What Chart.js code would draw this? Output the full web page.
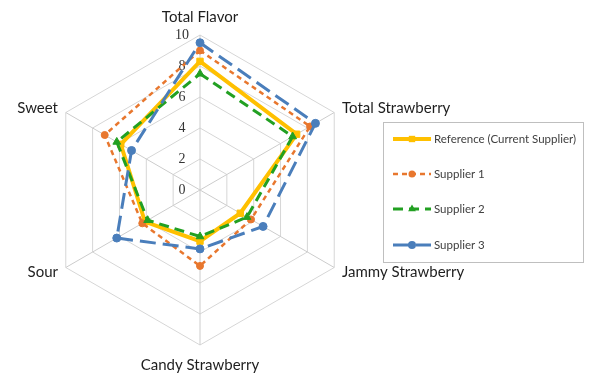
<!DOCTYPE html>
<html><head><meta charset="utf-8">
<script src="https://cdn.jsdelivr.net/npm/chart.js@4.4.1/dist/chart.umd.min.js"></script>
<style>html,body{margin:0;padding:0;background:#fff}#wrap{width:600px;height:381px;position:relative}</style>
</head><body><div id="wrap"><canvas id="c" width="600" height="381"></canvas></div>
<script>
const categories = ['Total Flavor', 'Total Strawberry', 'Jammy Strawberry', 'Candy Strawberry', 'Sour', 'Sweet'];
const seriesNames = ['Reference (Current Supplier)', 'Supplier 1', 'Supplier 2', 'Supplier 3'];
const referenceValues = [8.3, 7.2, 3.0, 3.3, 4.1, 5.9];
const supplier1Values = [9.0, 8.2, 3.8, 4.9, 4.3, 7.1];
const supplier2Values = [7.5, 6.9, 3.5, 3.0, 3.9, 6.2];
const supplier3Values = [9.5, 8.6, 4.7, 3.8, 6.2, 5.1];
const tickValues = [0, 2, 4, 6, 8, 10];
const tickLabels = ['0', '2', '4', '6', '8', '10'];

const seriesValues = [referenceValues, supplier1Values, supplier2Values, supplier3Values];
const styles = [
  {color: '#FFC000', width: 4, dash: [], point: 'rect', radius: 4.5, order: 4},
  {color: '#E8772E', width: 2.5, dash: [5, 4], point: 'circle', radius: 3.5, order: 3},
  {color: '#22A022', width: 3, dash: [10, 6], point: 'triangle', radius: 4.5, order: 2},
  {color: '#4A7EBB', width: 3, dash: [16, 7], point: 'circle', radius: 4, order: 1}
];

const datasets = seriesNames.map((name, i) => ({
  label: name,
  data: seriesValues[i],
  borderColor: styles[i].color,
  backgroundColor: styles[i].color,
  borderWidth: styles[i].width,
  borderDash: styles[i].dash,
  pointStyle: styles[i].point,
  pointRadius: styles[i].radius,
  pointBackgroundColor: styles[i].color,
  pointBorderColor: styles[i].color,
  pointBorderWidth: 1,
  fill: false,
  tension: 0,
  order: styles[i].order
}));

const labelPads = [18, 9, 9, 20, 9, 9];

const decorPlugin = {
  id: 'decor',
  beforeDatasetsDraw(chart) {
    const s = chart.scales.r, ctx = chart.ctx;
    ctx.save();
    ctx.font = '14px "Liberation Serif", serif';
    ctx.fillStyle = '#333333';
    ctx.textAlign = 'center';
    ctx.textBaseline = 'middle';
    tickValues.forEach((v, k) => {
      const p = s.getPointPositionForValue(0, v);
      ctx.fillText(tickLabels[k], s.xCenter - 18, p.y);
    });
    ctx.font = '15px Lato, sans-serif';
    ctx.fillStyle = '#1E1E1E';
    categories.forEach((lab, i) => {
      const p = s.getPointPosition(i, s.drawingArea + labelPads[i]);
      const dx = p.x - s.xCenter;
      ctx.textAlign = Math.abs(dx) < 1 ? 'center' : (dx > 0 ? 'left' : 'right');
      ctx.fillText(lab, p.x, p.y);
    });
    ctx.restore();
  },
  afterDraw(chart) {
    const ctx = chart.ctx;
    ctx.save();
    ctx.strokeStyle = '#BFBFBF';
    ctx.lineWidth = 1;
    ctx.strokeRect(383.5, 122.5, 200, 140);
    const ys = [139, 174, 209, 245];
    ctx.font = '11.5px Lato, sans-serif';
    ctx.textBaseline = 'middle';
    ctx.textAlign = 'left';
    seriesNames.forEach((name, i) => {
      const st = styles[i], y = ys[i];
      ctx.strokeStyle = st.color;
      ctx.fillStyle = st.color;
      ctx.lineWidth = st.width;
      ctx.setLineDash(st.dash);
      ctx.beginPath();
      ctx.moveTo(393, y);
      ctx.lineTo(431, y);
      ctx.stroke();
      ctx.setLineDash([]);
      const mx = 412, r = st.radius;
      ctx.beginPath();
      if (st.point === 'rect') {
        const h = r * Math.SQRT1_2;
        ctx.rect(mx - h, y - h, 2 * h, 2 * h);
      } else if (st.point === 'triangle') {
        ctx.moveTo(mx, y - r);
        ctx.lineTo(mx + r * 0.866, y + r * 0.5);
        ctx.lineTo(mx - r * 0.866, y + r * 0.5);
        ctx.closePath();
      } else {
        ctx.arc(mx, y, r, 0, Math.PI * 2);
      }
      ctx.fill();
      ctx.fillStyle = '#404040';
      ctx.fillText(name, 434, y);
    });
    ctx.restore();
  }
};

new Chart(document.getElementById('c'), {
  type: 'radar',
  data: {labels: categories, datasets},
  options: {
    responsive: false,
    devicePixelRatio: 1,
    animation: false,
    layout: {padding: {left: 45, right: 245, top: 35, bottom: 36}},
    plugins: {legend: {display: false}, tooltip: {enabled: false}},
    scales: {
      r: {
        min: 0, max: 10,
        afterBuildTicks: sc => { sc.ticks = tickValues.map(v => ({value: v})); },
        ticks: {display: false},
        grid: {color: '#D6D6D6', lineWidth: 1},
        angleLines: {color: '#CCCCCC', lineWidth: 1},
        pointLabels: {display: false}
      }
    }
  },
  plugins: [decorPlugin]
});
</script></body></html>
